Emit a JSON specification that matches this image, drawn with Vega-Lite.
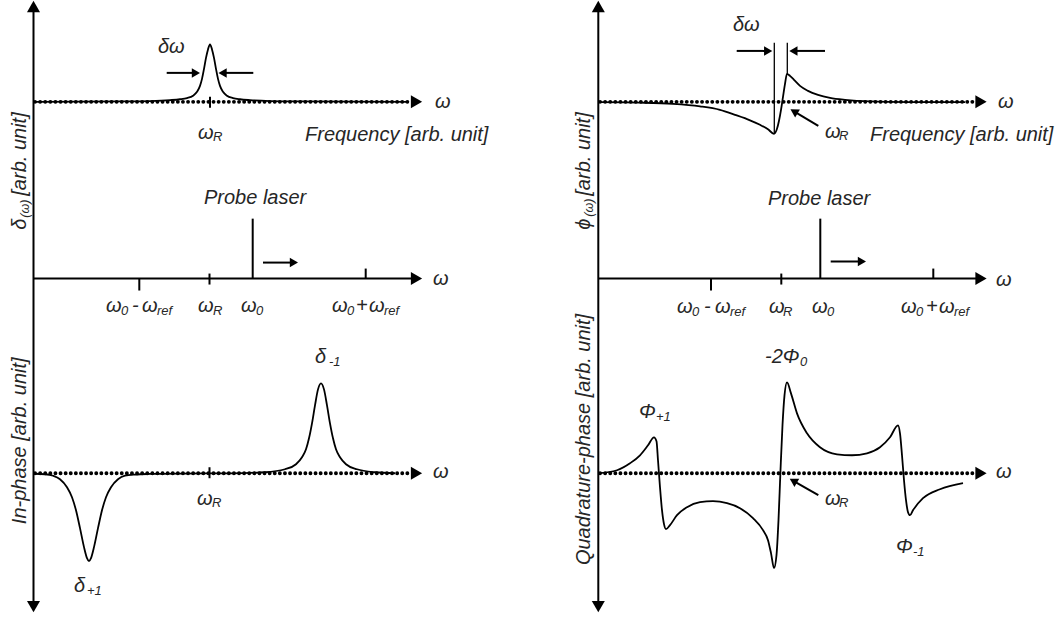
{
  "$schema": "https://vega.github.io/schema/vega-lite/v6.json",
  "width": 1060,
  "height": 620,
  "padding": 0,
  "autosize": {"type": "fit", "contains": "padding"},
  "background": "white",
  "config": {"view": {"stroke": null}},
  "datasets": {
    "rules": [
      {"x": 33.5, "y": 8, "x2": 33.5, "y2": 604},
      {"x": 598.3, "y": 8, "x2": 598.3, "y2": 604},
      {"x": 33.5, "y": 278, "x2": 412, "y2": 278},
      {"x": 598.3, "y": 278, "x2": 977, "y2": 278},
      {"x": 210, "y": 96, "x2": 210, "y2": 107},
      {"x": 209.5, "y": 467, "x2": 209.5, "y2": 478},
      {"x": 139.3, "y": 278, "x2": 139.3, "y2": 290},
      {"x": 209.5, "y": 273, "x2": 209.5, "y2": 284},
      {"x": 252.7, "y": 218, "x2": 252.7, "y2": 278},
      {"x": 365.7, "y": 268, "x2": 365.7, "y2": 278},
      {"x": 711, "y": 278, "x2": 711, "y2": 290},
      {"x": 781.3, "y": 273, "x2": 781.3, "y2": 284},
      {"x": 820.3, "y": 218, "x2": 820.3, "y2": 278},
      {"x": 933.3, "y": 268, "x2": 933.3, "y2": 278},
      {"x": 166.7, "y": 72, "x2": 196, "y2": 72},
      {"x": 222, "y": 72, "x2": 253.3, "y2": 72},
      {"x": 263, "y": 262, "x2": 294, "y2": 262},
      {"x": 830.7, "y": 261, "x2": 862, "y2": 261},
      {"x": 736.7, "y": 50, "x2": 768, "y2": 50},
      {"x": 793, "y": 50, "x2": 825, "y2": 50},
      {"x": 818.3, "y": 125, "x2": 794, "y2": 110.6},
      {"x": 818.3, "y": 495, "x2": 793.3, "y2": 480.6}
    ],
    "thinrules": [
      {"x": 774.3, "y": 41.7, "x2": 774.3, "y2": 133},
      {"x": 787.3, "y": 41.7, "x2": 787.3, "y2": 73}
    ],
    "dotted": [
      {"id": "lt", "x": 35, "y": 101}, {"id": "lt", "x": 411, "y": 101},
      {"id": "lb", "x": 35, "y": 473}, {"id": "lb", "x": 411, "y": 473},
      {"id": "rt", "x": 600, "y": 101}, {"id": "rt", "x": 976, "y": 101},
      {"id": "rb", "x": 600, "y": 473}, {"id": "rb", "x": 976, "y": 473}
    ],
    "curves": [
      {"id": "lt", "x": 36, "y": 101}, {"id": "lt", "x": 120, "y": 100.6}, {"id": "lt", "x": 150, "y": 100.2},
      {"id": "lt", "x": 170, "y": 99.3}, {"id": "lt", "x": 180, "y": 98.4}, {"id": "lt", "x": 187, "y": 97.2},
      {"id": "lt", "x": 193, "y": 95}, {"id": "lt", "x": 197, "y": 91}, {"id": "lt", "x": 200, "y": 85},
      {"id": "lt", "x": 202, "y": 78}, {"id": "lt", "x": 204, "y": 68}, {"id": "lt", "x": 206, "y": 57},
      {"id": "lt", "x": 208, "y": 48.5}, {"id": "lt", "x": 210, "y": 43.5}, {"id": "lt", "x": 212, "y": 48.5},
      {"id": "lt", "x": 214, "y": 57}, {"id": "lt", "x": 216, "y": 68}, {"id": "lt", "x": 218, "y": 78},
      {"id": "lt", "x": 220, "y": 85}, {"id": "lt", "x": 223, "y": 91}, {"id": "lt", "x": 227, "y": 95},
      {"id": "lt", "x": 233, "y": 97.2}, {"id": "lt", "x": 240, "y": 98.4}, {"id": "lt", "x": 250, "y": 99.3},
      {"id": "lt", "x": 270, "y": 100.2}, {"id": "lt", "x": 300, "y": 100.6}, {"id": "lt", "x": 408, "y": 101},

      {"id": "lb", "x": 34, "y": 473.5}, {"id": "lb", "x": 45, "y": 474}, {"id": "lb", "x": 53, "y": 475.5},
      {"id": "lb", "x": 60, "y": 479}, {"id": "lb", "x": 67, "y": 487}, {"id": "lb", "x": 72, "y": 497},
      {"id": "lb", "x": 76, "y": 510}, {"id": "lb", "x": 80, "y": 528}, {"id": "lb", "x": 84, "y": 547},
      {"id": "lb", "x": 87, "y": 558}, {"id": "lb", "x": 89, "y": 561}, {"id": "lb", "x": 91, "y": 558},
      {"id": "lb", "x": 94, "y": 547}, {"id": "lb", "x": 98, "y": 528}, {"id": "lb", "x": 102, "y": 510},
      {"id": "lb", "x": 106, "y": 497}, {"id": "lb", "x": 111, "y": 487}, {"id": "lb", "x": 118, "y": 479},
      {"id": "lb", "x": 125, "y": 475.5}, {"id": "lb", "x": 135, "y": 474.3}, {"id": "lb", "x": 150, "y": 473.7},
      {"id": "lb", "x": 180, "y": 473.3}, {"id": "lb", "x": 230, "y": 473.1}, {"id": "lb", "x": 265, "y": 472},
      {"id": "lb", "x": 285, "y": 469}, {"id": "lb", "x": 296, "y": 464}, {"id": "lb", "x": 302, "y": 457},
      {"id": "lb", "x": 306, "y": 449}, {"id": "lb", "x": 309, "y": 438}, {"id": "lb", "x": 312, "y": 423},
      {"id": "lb", "x": 315, "y": 405}, {"id": "lb", "x": 318, "y": 389}, {"id": "lb", "x": 321, "y": 383},
      {"id": "lb", "x": 324, "y": 389}, {"id": "lb", "x": 327, "y": 405}, {"id": "lb", "x": 330, "y": 423},
      {"id": "lb", "x": 333, "y": 438}, {"id": "lb", "x": 336, "y": 449}, {"id": "lb", "x": 340, "y": 457},
      {"id": "lb", "x": 346, "y": 464}, {"id": "lb", "x": 357, "y": 469}, {"id": "lb", "x": 375, "y": 472},
      {"id": "lb", "x": 395, "y": 473},

      {"id": "rt", "x": 600, "y": 101.3}, {"id": "rt", "x": 640, "y": 101.8}, {"id": "rt", "x": 673, "y": 103},
      {"id": "rt", "x": 700, "y": 105.5}, {"id": "rt", "x": 720, "y": 109}, {"id": "rt", "x": 735, "y": 114},
      {"id": "rt", "x": 750, "y": 119.5}, {"id": "rt", "x": 760, "y": 124}, {"id": "rt", "x": 768, "y": 128.5},
      {"id": "rt", "x": 774, "y": 133}, {"id": "rt", "x": 777, "y": 128}, {"id": "rt", "x": 779, "y": 120},
      {"id": "rt", "x": 781, "y": 109}, {"id": "rt", "x": 783, "y": 96}, {"id": "rt", "x": 785, "y": 83},
      {"id": "rt", "x": 787, "y": 73}, {"id": "rt", "x": 790, "y": 75}, {"id": "rt", "x": 794, "y": 79},
      {"id": "rt", "x": 800, "y": 85}, {"id": "rt", "x": 808, "y": 90}, {"id": "rt", "x": 818, "y": 94},
      {"id": "rt", "x": 830, "y": 97}, {"id": "rt", "x": 845, "y": 99}, {"id": "rt", "x": 870, "y": 100.6},
      {"id": "rt", "x": 910, "y": 101.2}, {"id": "rt", "x": 965, "y": 101.3},

      {"id": "rb", "x": 598, "y": 473}, {"id": "rb", "x": 617, "y": 470}, {"id": "rb", "x": 630, "y": 463},
      {"id": "rb", "x": 640, "y": 455}, {"id": "rb", "x": 648, "y": 445}, {"id": "rb", "x": 654, "y": 437},
      {"id": "rb", "x": 656.5, "y": 441}, {"id": "rb", "x": 658, "y": 460}, {"id": "rb", "x": 660, "y": 487},
      {"id": "rb", "x": 662, "y": 510}, {"id": "rb", "x": 664, "y": 524}, {"id": "rb", "x": 666, "y": 529},
      {"id": "rb", "x": 670, "y": 525}, {"id": "rb", "x": 677, "y": 515}, {"id": "rb", "x": 687, "y": 507},
      {"id": "rb", "x": 700, "y": 502}, {"id": "rb", "x": 713, "y": 501}, {"id": "rb", "x": 727, "y": 503},
      {"id": "rb", "x": 740, "y": 508}, {"id": "rb", "x": 753, "y": 518}, {"id": "rb", "x": 763, "y": 530},
      {"id": "rb", "x": 768, "y": 540}, {"id": "rb", "x": 771, "y": 553}, {"id": "rb", "x": 774, "y": 568},
      {"id": "rb", "x": 776.5, "y": 555}, {"id": "rb", "x": 778.5, "y": 520}, {"id": "rb", "x": 780.5, "y": 470},
      {"id": "rb", "x": 782.5, "y": 425}, {"id": "rb", "x": 784.5, "y": 395}, {"id": "rb", "x": 787, "y": 382},
      {"id": "rb", "x": 791, "y": 393}, {"id": "rb", "x": 797, "y": 413}, {"id": "rb", "x": 807, "y": 433},
      {"id": "rb", "x": 820, "y": 447}, {"id": "rb", "x": 837, "y": 454}, {"id": "rb", "x": 852, "y": 455},
      {"id": "rb", "x": 867, "y": 453}, {"id": "rb", "x": 880, "y": 447}, {"id": "rb", "x": 890, "y": 437},
      {"id": "rb", "x": 898, "y": 425}, {"id": "rb", "x": 900, "y": 433}, {"id": "rb", "x": 902, "y": 455},
      {"id": "rb", "x": 904, "y": 480}, {"id": "rb", "x": 906, "y": 500}, {"id": "rb", "x": 908, "y": 512},
      {"id": "rb", "x": 910, "y": 515}, {"id": "rb", "x": 913, "y": 510}, {"id": "rb", "x": 923, "y": 498},
      {"id": "rb", "x": 940, "y": 489}, {"id": "rb", "x": 963, "y": 483}
    ],
    "bigheads": [
      {"dir": "up", "x": 33.5, "y": 5.5}, {"dir": "up", "x": 598.3, "y": 5.5},
      {"dir": "down", "x": 33.5, "y": 606.5}, {"dir": "down", "x": 598.3, "y": 606.5},
      {"dir": "right", "x": 416.5, "y": 101}, {"dir": "right", "x": 416.5, "y": 278}, {"dir": "right", "x": 416.5, "y": 473},
      {"dir": "right", "x": 981, "y": 101}, {"dir": "right", "x": 981, "y": 278}, {"dir": "right", "x": 981, "y": 473}
    ],
    "smallheads": [
      {"dir": "right", "x": 195.9, "y": 72}, {"dir": "left", "x": 222.6, "y": 72},
      {"dir": "right", "x": 293.9, "y": 262}, {"dir": "right", "x": 861.9, "y": 261},
      {"dir": "right", "x": 768.2, "y": 50}, {"dir": "left", "x": 793.4, "y": 50}
    ],
    "diagheads": [
      {"x": 794, "y": 110.6}, {"x": 793.3, "y": 480.6}
    ],
    "labels": [
      {"t": "δω", "x": 158, "y": 52},
      {"t": "ω", "x": 435, "y": 107},
      {"t": "ω", "x": 198, "y": 138},
      {"t": "Frequency [arb. unit]", "x": 305, "y": 140},
      {"t": "Probe laser", "x": 204, "y": 203},
      {"t": "ω", "x": 433, "y": 284},
      {"t": "ω", "x": 106, "y": 312}, {"t": "-", "x": 132, "y": 312}, {"t": "ω", "x": 142, "y": 312},
      {"t": "ω", "x": 198, "y": 312},
      {"t": "ω", "x": 241, "y": 312},
      {"t": "ω", "x": 332, "y": 312}, {"t": "+", "x": 356, "y": 312}, {"t": "ω", "x": 369, "y": 312},
      {"t": "δ", "x": 315, "y": 363},
      {"t": "δ", "x": 74, "y": 592},
      {"t": "ω", "x": 197, "y": 505},
      {"t": "ω", "x": 433, "y": 478},
      {"t": "δω", "x": 733, "y": 30},
      {"t": "ω", "x": 998, "y": 107},
      {"t": "ω", "x": 825, "y": 137},
      {"t": "Frequency [arb. unit]", "x": 870, "y": 140},
      {"t": "Probe laser", "x": 768, "y": 204},
      {"t": "ω", "x": 996, "y": 285},
      {"t": "ω", "x": 677, "y": 313}, {"t": "-", "x": 704, "y": 313}, {"t": "ω", "x": 715, "y": 313},
      {"t": "ω", "x": 769, "y": 313},
      {"t": "ω", "x": 812, "y": 313},
      {"t": "ω", "x": 901, "y": 313}, {"t": "+", "x": 926, "y": 313}, {"t": "ω", "x": 939, "y": 313},
      {"t": "-2Φ", "x": 765, "y": 363},
      {"t": "Φ", "x": 639, "y": 418},
      {"t": "Φ", "x": 896, "y": 553},
      {"t": "ω", "x": 825, "y": 505},
      {"t": "ω", "x": 996, "y": 478}
    ],
    "subs": [
      {"t": "R", "x": 213, "y": 140},
      {"t": "0", "x": 121, "y": 315}, {"t": "ref", "x": 157, "y": 315},
      {"t": "R", "x": 213, "y": 315},
      {"t": "0", "x": 256, "y": 315},
      {"t": "0", "x": 347, "y": 315}, {"t": "ref", "x": 384, "y": 315},
      {"t": "-1", "x": 329, "y": 366},
      {"t": "+1", "x": 87, "y": 595},
      {"t": "R", "x": 212, "y": 507},
      {"t": "R", "x": 839, "y": 139},
      {"t": "0", "x": 692, "y": 316}, {"t": "ref", "x": 730, "y": 316},
      {"t": "R", "x": 783, "y": 316},
      {"t": "0", "x": 827, "y": 316},
      {"t": "0", "x": 916, "y": 316}, {"t": "ref", "x": 954, "y": 316},
      {"t": "0", "x": 800, "y": 366},
      {"t": "+1", "x": 656, "y": 421},
      {"t": "-1", "x": 913, "y": 556},
      {"t": "R", "x": 839, "y": 507}
    ],
    "vlabels": [
      {"t": "δ", "x": 26, "y": 229},
      {"t": "[arb. unit]", "x": 26, "y": 195},
      {"t": "In-phase [arb. unit]", "x": 26, "y": 524},
      {"t": "ϕ", "x": 590, "y": 229},
      {"t": "[arb. unit]", "x": 590, "y": 195},
      {"t": "Quadrature-phase [arb. unit]", "x": 590, "y": 565}
    ],
    "vsubs": [
      {"t": "(ω)", "x": 28.5, "y": 217},
      {"t": "(ω)", "x": 592.5, "y": 216}
    ]
  },
  "encoding": {
    "x": {"field": "x", "type": "quantitative", "scale": {"domain": [0, 1060], "nice": false, "zero": false}, "axis": null},
    "y": {"field": "y", "type": "quantitative", "scale": {"domain": [0, 620], "nice": false, "zero": false, "reverse": true}, "axis": null}
  },
  "layer": [
    {
      "data": {"name": "curves"},
      "mark": {"type": "line", "color": "black", "strokeWidth": 1.8, "interpolate": "monotone"},
      "encoding": {"detail": {"field": "id", "type": "nominal"}}
    },
    {
      "data": {"name": "dotted"},
      "mark": {"type": "line", "color": "black", "strokeWidth": 3.8, "strokeCap": "round", "strokeDash": [0.1, 5]},
      "encoding": {"detail": {"field": "id", "type": "nominal"}}
    },
    {
      "data": {"name": "rules"},
      "mark": {"type": "rule", "color": "black", "strokeWidth": 2},
      "encoding": {"x2": {"field": "x2"}, "y2": {"field": "y2"}}
    },
    {
      "data": {"name": "thinrules"},
      "mark": {"type": "rule", "color": "black", "strokeWidth": 1.3},
      "encoding": {"x2": {"field": "x2"}, "y2": {"field": "y2"}}
    },
    {
      "data": {"name": "bigheads"},
      "mark": {"type": "point", "filled": true, "color": "black", "opacity": 1, "size": 170, "strokeWidth": 0},
      "encoding": {"shape": {"field": "dir", "type": "nominal", "scale": {"domain": ["up", "down", "right", "left"], "range": ["triangle-up", "triangle-down", "triangle-right", "triangle-left"]}, "legend": null}}
    },
    {
      "data": {"name": "smallheads"},
      "mark": {"type": "point", "filled": true, "color": "black", "opacity": 1, "size": 90, "strokeWidth": 0},
      "encoding": {"shape": {"field": "dir", "type": "nominal", "scale": {"domain": ["up", "down", "right", "left"], "range": ["triangle-up", "triangle-down", "triangle-right", "triangle-left"]}, "legend": null}}
    },
    {
      "data": {"name": "diagheads"},
      "mark": {"type": "point", "filled": true, "color": "black", "opacity": 1, "size": 90, "strokeWidth": 0, "shape": "triangle-right", "angle": 210.5}
    },
    {
      "data": {"name": "labels"},
      "mark": {"type": "text", "font": "Liberation Sans", "fontStyle": "italic", "fontSize": 20, "color": "#262626", "align": "left", "baseline": "alphabetic"},
      "encoding": {"text": {"field": "t"}}
    },
    {
      "data": {"name": "subs"},
      "mark": {"type": "text", "font": "Liberation Sans", "fontStyle": "italic", "fontSize": 13, "color": "#262626", "align": "left", "baseline": "alphabetic"},
      "encoding": {"text": {"field": "t"}}
    },
    {
      "data": {"name": "vlabels"},
      "mark": {"type": "text", "font": "Liberation Sans", "fontStyle": "italic", "fontSize": 20, "color": "#262626", "align": "left", "baseline": "alphabetic", "angle": 270},
      "encoding": {"text": {"field": "t"}}
    },
    {
      "data": {"name": "vsubs"},
      "mark": {"type": "text", "font": "Liberation Sans", "fontStyle": "italic", "fontSize": 12.5, "color": "#262626", "align": "left", "baseline": "alphabetic", "angle": 270},
      "encoding": {"text": {"field": "t"}}
    }
  ]
}
